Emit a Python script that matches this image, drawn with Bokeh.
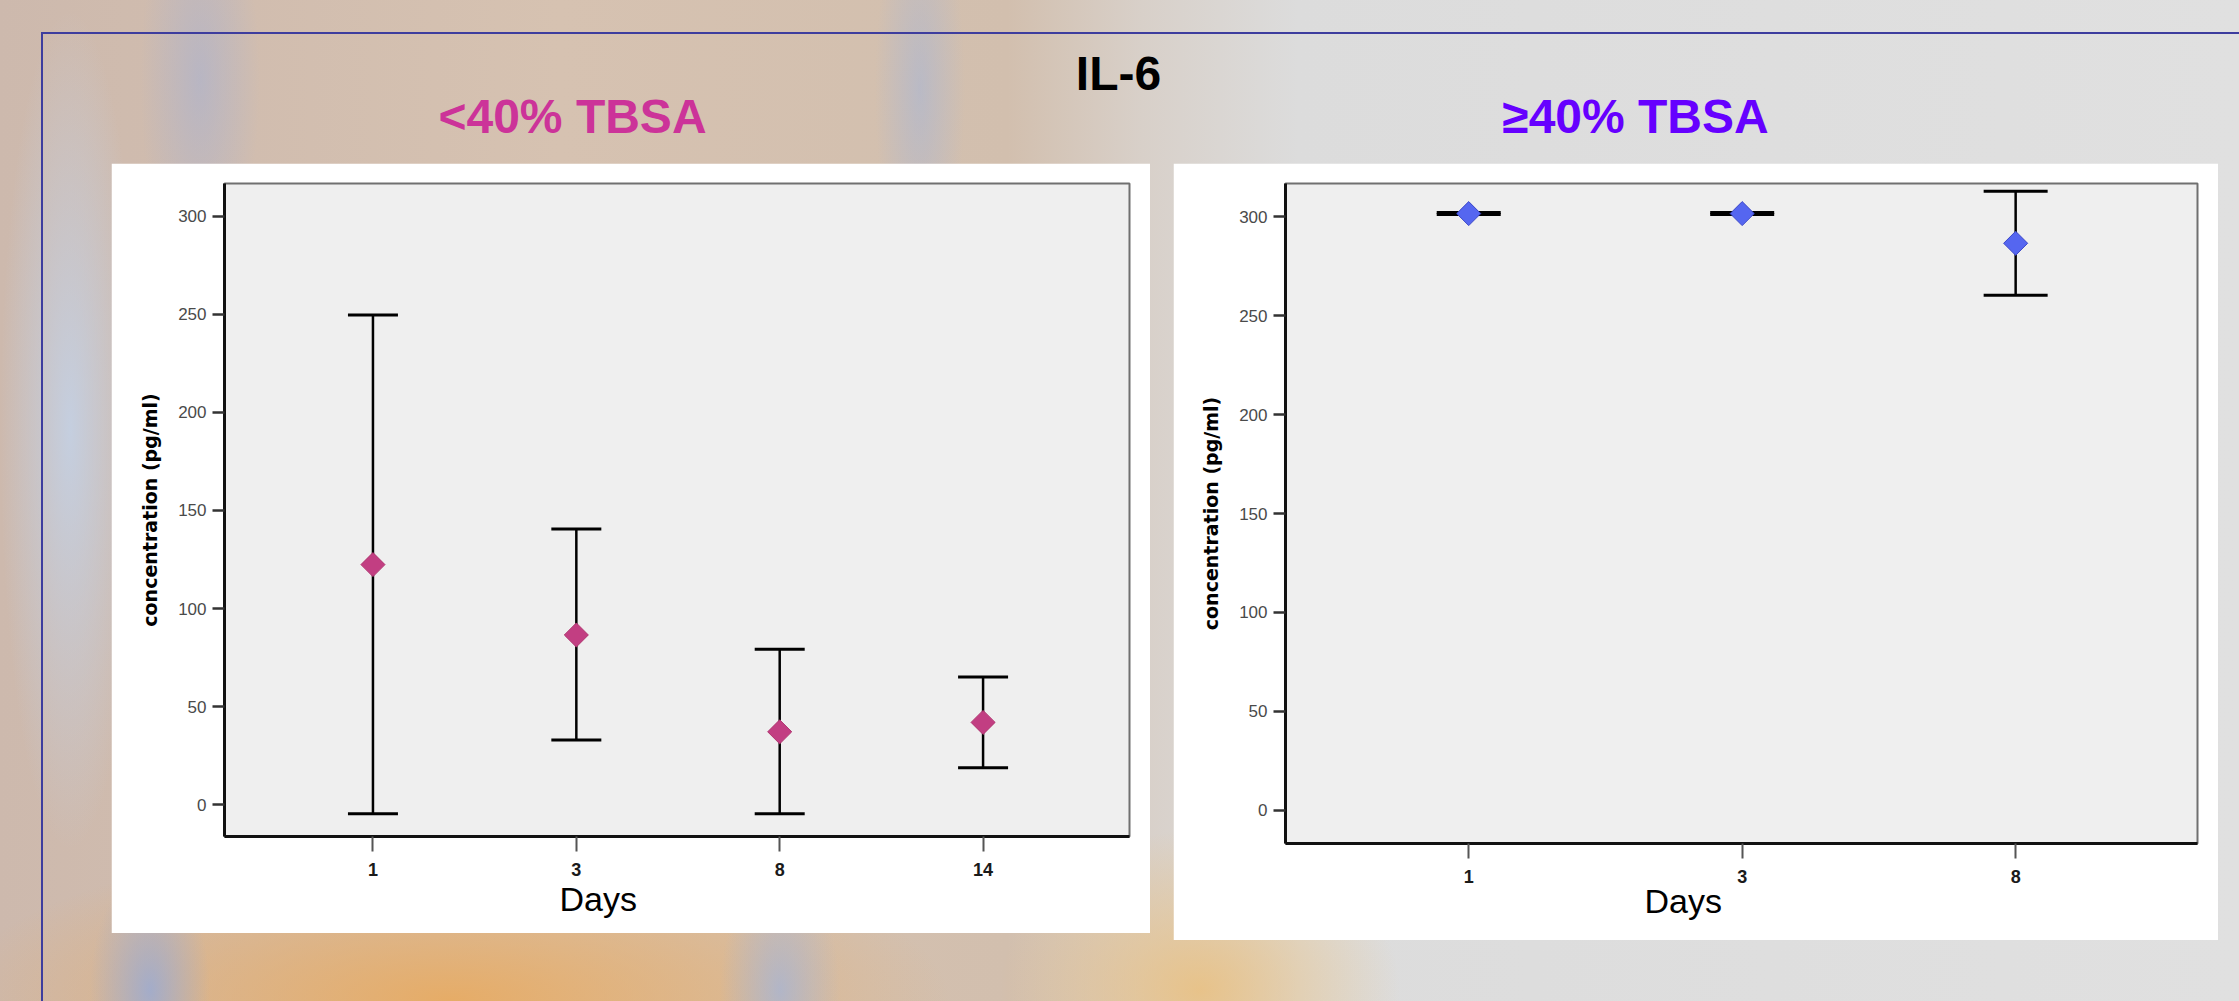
import math
from bokeh.plotting import figure
from bokeh.models import (Range1d, FixedTicker, Whisker, TeeHead, ColumnDataSource,
                          Label, Spacer, Title)
from bokeh.layouts import row, column
from bokeh.embed import file_html
from bokeh.resources import INLINE

# ---------------- data ----------------
days_lt40 = ["1", "3", "8", "14"]
mean_lt40 = [122.4, 86.5, 37.1, 41.9]
upper_lt40 = [249.7, 140.5, 79.2, 65.0]
lower_lt40 = [-4.7, 32.9, -4.7, 18.8]

days_ge40 = ["1", "3", "8"]
mean_ge40 = [301.5, 301.5, 286.5]
upper_ge40 = [302.0, 302.0, 312.8]
lower_ge40 = [301.0, 301.0, 260.3]

y_ticks = [0, 50, 100, 150, 200, 250, 300]

main_title = "IL-6"
title_lt40 = "<40% TBSA"
title_ge40 = "≥40% TBSA"
y_label = "concentration (pg/ml)"
x_label = "Days"

FONT = "Liberation Sans"


def make_panel(days, mean, upper, lower, width, height, borders, xr, yr,
               fill, line, cap, days_offset, days_standoff):
    idx = list(range(len(days)))
    src = ColumnDataSource(dict(x=idx, mean=mean, upper=upper, lower=lower))
    bl, br, bt, bb = borders
    p = figure(width=width, height=height, output_backend="svg", toolbar_location=None,
               x_range=Range1d(*xr), y_range=Range1d(*yr),
               min_border_left=bl, min_border_right=br,
               min_border_top=bt, min_border_bottom=bb)
    p.background_fill_color = "#EFEFEF"
    p.border_fill_color = "white"
    p.outline_line_color = "#707070"
    p.outline_line_width = 2
    p.grid.visible = False

    ya = p.yaxis[0]
    ya.ticker = FixedTicker(ticks=y_ticks)
    ya.axis_label = y_label
    ya.axis_label_text_font = "DejaVu Sans"
    ya.axis_label_text_font_style = "bold"
    ya.axis_label_text_font_size = "19px"
    ya.axis_label_text_color = "black"
    ya.axis_label_standoff = 14
    ya.major_label_text_font = FONT
    ya.major_label_text_font_size = "17px"
    ya.major_label_text_color = "#4a4a4a"
    ya.major_label_standoff = 6
    ya.major_tick_out = 12
    ya.major_tick_in = 0
    ya.major_tick_line_width = 2.5
    ya.major_tick_line_color = "#333333"
    ya.minor_tick_out = 0
    ya.minor_tick_in = 0
    ya.axis_line_width = 3
    ya.axis_line_color = "#111111"

    xa = p.xaxis[0]
    xa.ticker = FixedTicker(ticks=idx)
    xa.major_label_overrides = {i: d for i, d in zip(idx, days)}
    xa.major_label_text_font = FONT
    xa.major_label_text_font_style = "bold"
    xa.major_label_text_font_size = "18px"
    xa.major_label_text_color = "#1a1a1a"
    xa.major_label_standoff = 11
    xa.major_tick_out = 15
    xa.major_tick_in = 0
    xa.major_tick_line_width = 2
    xa.major_tick_line_color = "#555555"
    xa.minor_tick_out = 0
    xa.minor_tick_in = 0
    xa.axis_line_width = 3
    xa.axis_line_color = "#111111"

    w = Whisker(source=src, base="x", upper="upper", lower="lower", dimension="height",
                line_color="black", line_width=2.5,
                upper_head=TeeHead(size=cap, line_width=3, line_color="black"),
                lower_head=TeeHead(size=cap, line_width=3, line_color="black"))
    w.level = "underlay"
    p.add_layout(w)

    p.scatter("x", "mean", source=src, marker="square", size=17, angle=math.pi / 4,
              fill_color=fill, line_color=line, line_width=1)

    p.add_layout(Title(text=x_label, align="left", offset=days_offset, text_font=FONT,
                       text_font_style="normal", text_font_size="34px", text_color="black",
                       standoff=days_standoff), "below")
    return p


left = make_panel(days_lt40, mean_lt40, upper_lt40, lower_lt40,
                  width=1039, height=770, borders=(113, 21, 19, 97),
                  xr=(-0.73, 3.72), yr=(-16.3, 316.8),
                  fill="#C23E82", line="#B0346F", cap=50, days_offset=335, days_standoff=-1)

right = make_panel(days_ge40, mean_ge40, upper_ge40, lower_ge40,
                   width=1045, height=777, borders=(112, 21, 20, 97),
                   xr=(-0.67, 2.665), yr=(-16.7, 316.7),
                   fill="#5566F0", line="#3A46C8", cap=64, days_offset=359, days_standoff=-12)

top = figure(width=2239, height=163, x_range=Range1d(0, 2239), y_range=Range1d(163, 0),
             output_backend="svg", toolbar_location=None,
             x_axis_location=None, y_axis_location=None, min_border=0)
top.border_fill_color = None
top.background_fill_color = None
top.outline_line_color = None
top.grid.visible = False
for txt, x, y, col in [(main_title, 1118, 72.5, "black"),
                       (title_lt40, 572, 115.5, "#CC3399"),
                       (title_ge40, 1635, 115.5, "#6600FF")]:
    top.add_layout(Label(x=x, y=y, text=txt, text_font=FONT, text_font_style="bold",
                         text_font_size="48px", text_color=col, text_align="center",
                         text_baseline="middle"))

bg = ("linear-gradient(#3d3d9e,#3d3d9e) 41px 32px / 2px 969px no-repeat,"
      "linear-gradient(#3d3d9e,#3d3d9e) 41px 32px / 2198px 2px no-repeat,"
      "radial-gradient(ellipse 70px 420px at 70px 430px, rgba(195,210,232,0.85), rgba(195,210,232,0) 100%),"
      "radial-gradient(ellipse 60px 200px at 200px 80px, rgba(160,175,215,0.5), rgba(160,175,215,0) 100%),"
      "radial-gradient(ellipse 45px 200px at 920px 90px, rgba(160,180,220,0.5), rgba(160,180,220,0) 100%),"
      "radial-gradient(ellipse 60px 120px at 150px 990px, rgba(150,170,215,0.8), rgba(150,170,215,0) 100%),"
      "radial-gradient(ellipse 60px 120px at 780px 990px, rgba(160,180,220,0.7), rgba(160,180,220,0) 100%),"
      "radial-gradient(ellipse 500px 160px at 450px 1000px, rgba(232,170,95,0.9), rgba(232,170,95,0) 100%),"
      "radial-gradient(ellipse 200px 160px at 1200px 990px, rgba(235,190,120,0.8), rgba(235,190,120,0) 100%),"
      "linear-gradient(90deg, #cdb9ad 0%, #d6c2b1 25%, #d2bfae 45%, #d8d0c9 51%, #dcdcdc 58%, #e0e0e0 100%)")

layout = column(
    top,
    row(Spacer(width=111, height=777), left, Spacer(width=23, height=777), right,
        Spacer(width=21, height=777)),
    Spacer(width=2239, height=61),
    styles={"background": bg},
)

open("out.html", "w").write(file_html(layout, INLINE, title="IL-6"))
